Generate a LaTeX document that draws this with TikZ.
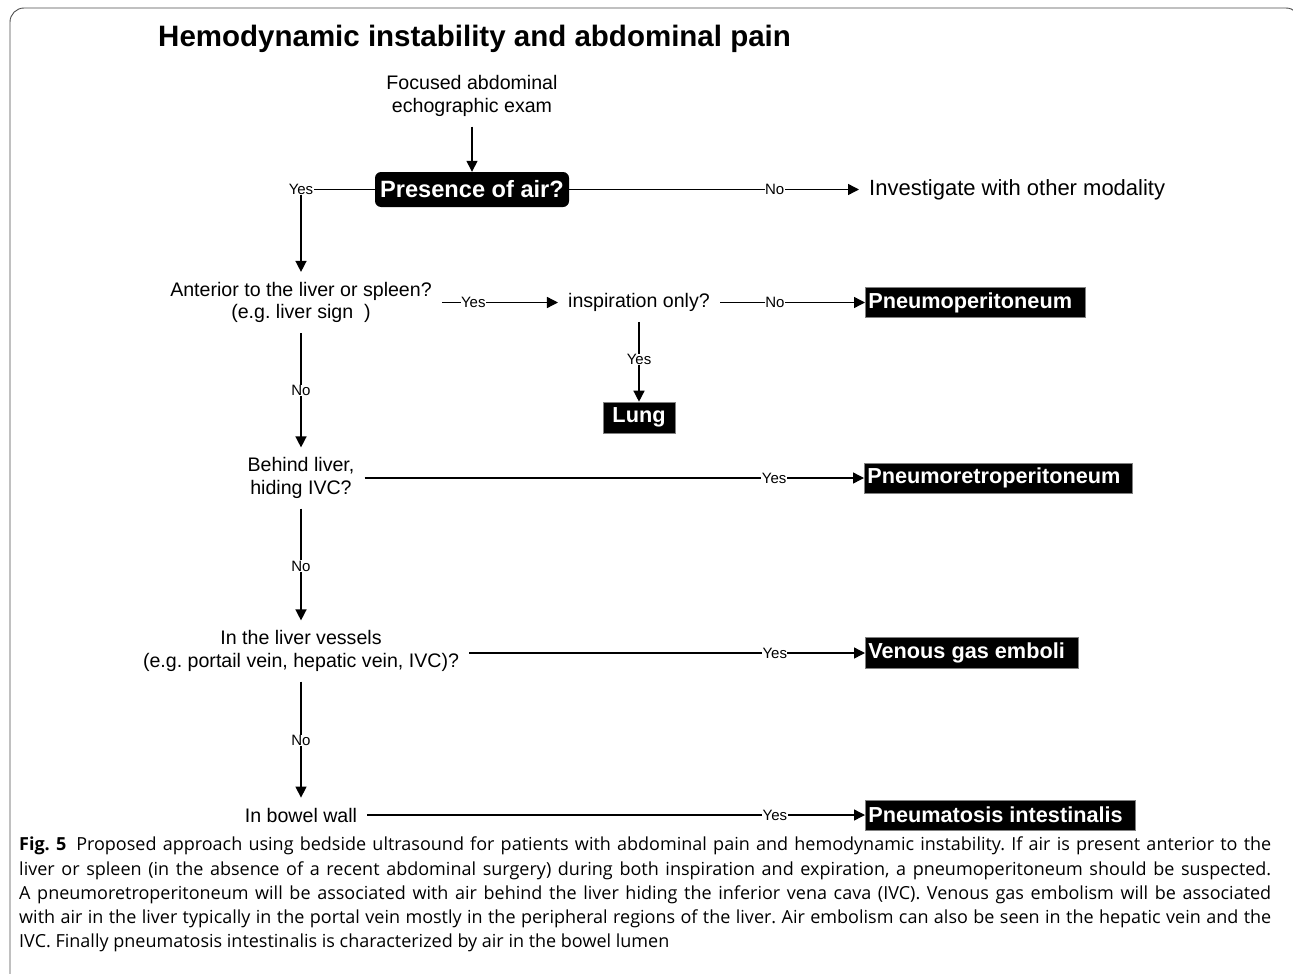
\documentclass[tikz,border=0pt]{standalone}
\usepackage{fontspec}
\setmainfont{Liberation Sans}
\newfontfamily\capfont{Open Sans}
\usetikzlibrary{arrows.meta,positioning,calc}
\frenchspacing
\begin{document}
\begin{tikzpicture}[x=1pt,y=-1pt,
  txt/.style={font=\fontsize{19.6}{22.5}\selectfont\frenchspacing, align=center, inner xsep=10pt, inner ysep=10pt},
  lbl/.style={font=\fontsize{15}{15}\selectfont, fill=white, inner sep=0.4pt},
  arr/.style={line width=1.4pt, -{Triangle[length=11pt,width=11pt]}},
  res/.style={fill=black, draw=gray, line width=0.6pt, text=white, font=\fontsize{21.7}{24}\selectfont\bfseries, inner xsep=0pt, inner ysep=0pt, minimum height=30pt, anchor=west},
  decision/.style={fill=black, rounded corners=6pt, text=white, font=\fontsize{23.6}{26}\selectfont\bfseries, minimum width=194pt, minimum height=35pt, inner sep=0pt}
]
\useasboundingbox (0,0) rectangle (1293,974);
% frame
\draw[gray!60!black, line width=0.9pt, rounded corners=14pt] (10,1000) -- (10,8) -- (1300,8) -- (1300,1000);
% title
\node[anchor=base west, inner sep=0pt, font=\fontsize{29.5}{32}\selectfont\bfseries] (title) at (158,47) {Hemodynamic instability and abdominal pain};

% nodes
\node[txt] (focus) at (472,96) {Focused abdominal\\echographic exam};
\node[decision] (presence) at (472,189.5) {Presence of air?};
\node[txt, anchor=west, font=\fontsize{22}{24}\selectfont] (investigate) at (859,189.5) {Investigate with other modality};
\coordinate (c1) at (301,189.5);
\node[txt] (anterior) at (301,302.5) {Anterior to the liver or spleen?\\(e.g. liver sign\ \ )};
\node[txt] (inspiration) at (639,302.5) {inspiration only?};
\node[res] (pneumo) at (865,302.5) {\kern3pt Pneumoperitoneum\kern13pt};
\node[res, anchor=center, minimum height=31pt, inner xsep=9.5pt] (lung) at (639,417.5) {\raisebox{-1pt}{Lung}};
\node[txt] (behind) at (301,478) {Behind liver,\\hiding IVC?};
\node[res] (retro) at (864,478) {\kern3pt Pneumoretroperitoneum\kern12pt};
\node[txt] (vessels) at (301,651) {In the liver vessels\\(e.g. portail vein, hepatic vein, IVC)?};
\node[res, minimum height=31pt] (venous) at (865,653) {\kern3pt Venous gas emboli\kern13pt};
\node[txt] (bowel) at (301,815) {In bowel wall};
\node[res] (pneumatosis) at (865,815) {\kern3pt Pneumatosis intestinalis\kern13pt};

% connectors
\draw[arr] (focus.south) -- (presence.north);
\draw[arr] (presence.west) -- (c1) -- (anterior.north);
\node[lbl] at (c1) {Yes};
\draw[arr] (presence.east) -- node[lbl, pos=0.709] {No} (investigate.west);
\draw[arr] (anterior.east) -- node[lbl, pos=0.27] {Yes} (inspiration.west);
\draw[arr] (inspiration.east) -- node[lbl, pos=0.379] {No} (pneumo.west);
\draw[arr] (inspiration.south) -- node[lbl, pos=0.475] {Yes} (lung.north);
\draw[arr] (anterior.south) -- node[lbl, pos=0.5] {No} (behind.north);
\draw[arr] (behind.east) -- node[lbl, pos=0.82] {Yes} (retro.west);
\draw[arr] (behind.south) -- node[lbl, pos=0.513] {No} (vessels.north);
\draw[arr] ([yshift=-2pt]vessels.east) -- node[lbl, pos=0.772] {Yes} (venous.west);
\draw[arr] (vessels.south) -- node[lbl, pos=0.509] {No} (bowel.north);
\draw[arr] (bowel.east) -- node[lbl, pos=0.819] {Yes} (pneumatosis.west);

% caption
\node[anchor=north west, inner sep=0pt, text width=1252pt, align=justify, font=\capfont\fontsize{18}{24.2}\selectfont\frenchspacing] (caption) at (19,837)
{\textbf{Fig.~5}\hspace{0.55em}Proposed approach using bedside ultrasound for patients with abdominal pain and hemodynamic instability. If air is present anterior to the\linebreak
liver or spleen (in the absence of a recent abdominal surgery) during both inspiration and expiration, a pneumoperitoneum should be suspected.\linebreak
A pneumoretroperitoneum will be associated with air behind the liver hiding the inferior vena cava (IVC). Venous gas embolism will be associated\linebreak
with air in the liver typically in the portal vein mostly in the peripheral regions of the liver. Air embolism can also be seen in the hepatic vein and the\linebreak
IVC. Finally pneumatosis intestinalis is characterized by air in the bowel lumen};
\end{tikzpicture}
\end{document}
